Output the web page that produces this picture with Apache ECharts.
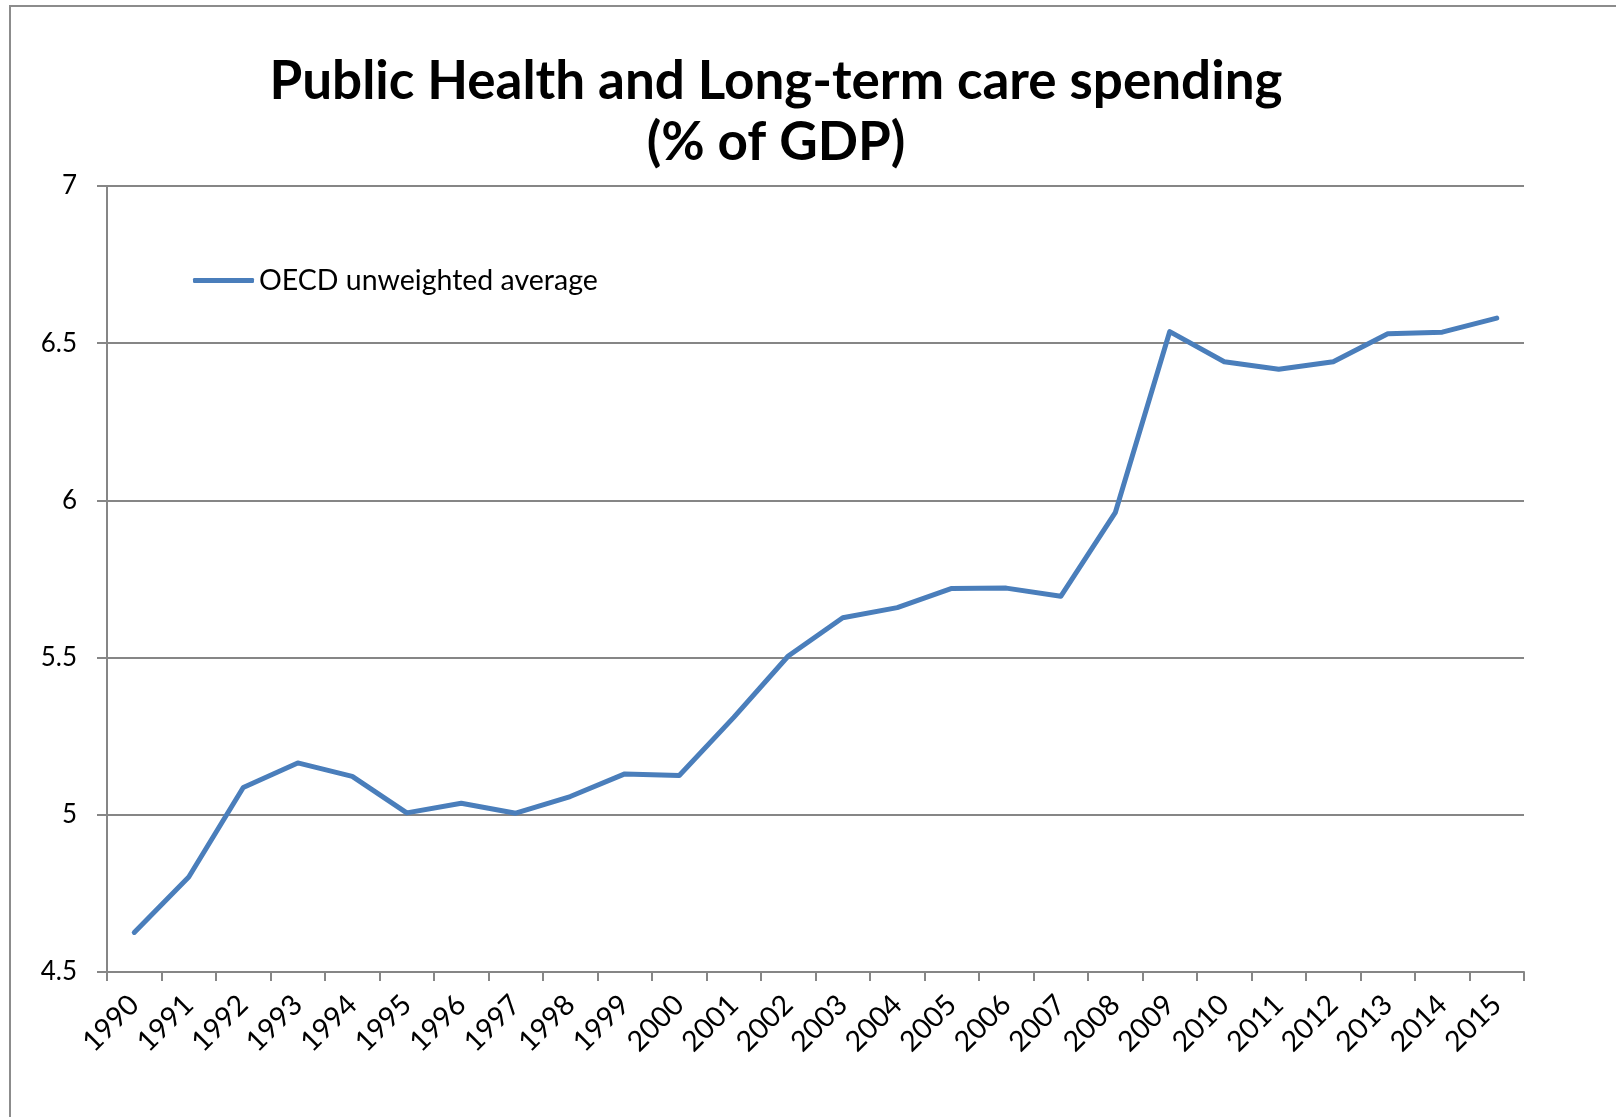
<!DOCTYPE html>
<html>
<head>
<meta charset="utf-8">
<script src="https://cdn.jsdelivr.net/npm/echarts@6/dist/echarts.min.js"></script>
<style>
  html, body { margin: 0; padding: 0; background: #fff; }
  #chart { width: 1616px; height: 1117px; }
</style>
</head>
<body>
<div id="chart"></div>
<script>
// Years on the horizontal axis
const years = ['1990','1991','1992','1993','1994','1995','1996','1997','1998','1999',
  '2000','2001','2002','2003','2004','2005','2006','2007','2008','2009',
  '2010','2011','2012','2013','2014','2015'];

// Public health and long-term care spending, % of GDP
const oecdAverage = [4.626, 4.802, 5.087, 5.165, 5.122, 5.006, 5.037, 5.005, 5.058, 5.130,
  5.125, 5.310, 5.505, 5.627, 5.659, 5.720, 5.721, 5.695, 5.961, 6.537,
  6.441, 6.417, 6.441, 6.530, 6.535, 6.580];

const seriesName = 'OECD unweighted average';
const titleLines = ['Public Health and Long-term care spending', '(% of GDP)'];

const FONT = 'Lato, "Open Sans", sans-serif';
const AXIS_GREY = '#868686';
const LINE_BLUE = '#4a7ebb';

const chart = echarts.init(document.getElementById('chart'), null, { renderer: 'canvas' });

chart.setOption({
  backgroundColor: '#ffffff',
  animation: false,
  title: {
    text: titleLines.join('\n'),
    left: 771,
    top: 46,
    textAlign: 'center',
    textStyle: {
      fontFamily: FONT,
      fontWeight: 'bold',
      fontSize: 53,
      lineHeight: 61,
      color: '#000'
    }
  },
  legend: {
    data: [seriesName],
    left: 188,
    top: 261,
    icon: 'roundRect',
    itemWidth: 61,
    itemHeight: 5,
    textStyle: { fontFamily: FONT, fontSize: 28.5, color: '#000' }
  },
  graphic: [{
    type: 'rect',
    shape: { x: 10, y: 6, width: 1700, height: 1300 },
    style: { fill: 'none', stroke: '#8c8c8c', lineWidth: 2 },
    silent: true,
    z: -1
  }],
  grid: { left: 107, right: 92, top: 186, bottom: 145, containLabel: false },
  xAxis: {
    type: 'category',
    data: years,
    boundaryGap: true,
    axisLine: { lineStyle: { color: AXIS_GREY, width: 2 } },
    axisTick: { show: true, length: 9, lineStyle: { color: AXIS_GREY, width: 2 } },
    axisLabel: {
      rotate: 45,
      interval: 0,
      margin: 28,
      fontFamily: FONT,
      fontSize: 28.5,
      color: '#000'
    }
  },
  yAxis: {
    type: 'value',
    min: 4.5,
    max: 7,
    interval: 0.5,
    axisLine: { show: true, lineStyle: { color: AXIS_GREY, width: 2 } },
    axisTick: { show: true, length: 10, lineStyle: { color: AXIS_GREY, width: 2 } },
    splitLine: { show: true, lineStyle: { color: AXIS_GREY, width: 2 } },
    axisLabel: {
      margin: 30,
      fontFamily: FONT,
      fontSize: 26,
      color: '#000'
    }
  },
  series: [{
    name: seriesName,
    type: 'line',
    data: oecdAverage,
    showSymbol: false,
    symbol: 'none',
    lineStyle: { color: LINE_BLUE, width: 5, cap: 'round', join: 'round' },
    itemStyle: { color: LINE_BLUE }
  }]
});
</script>
</body>
</html>
